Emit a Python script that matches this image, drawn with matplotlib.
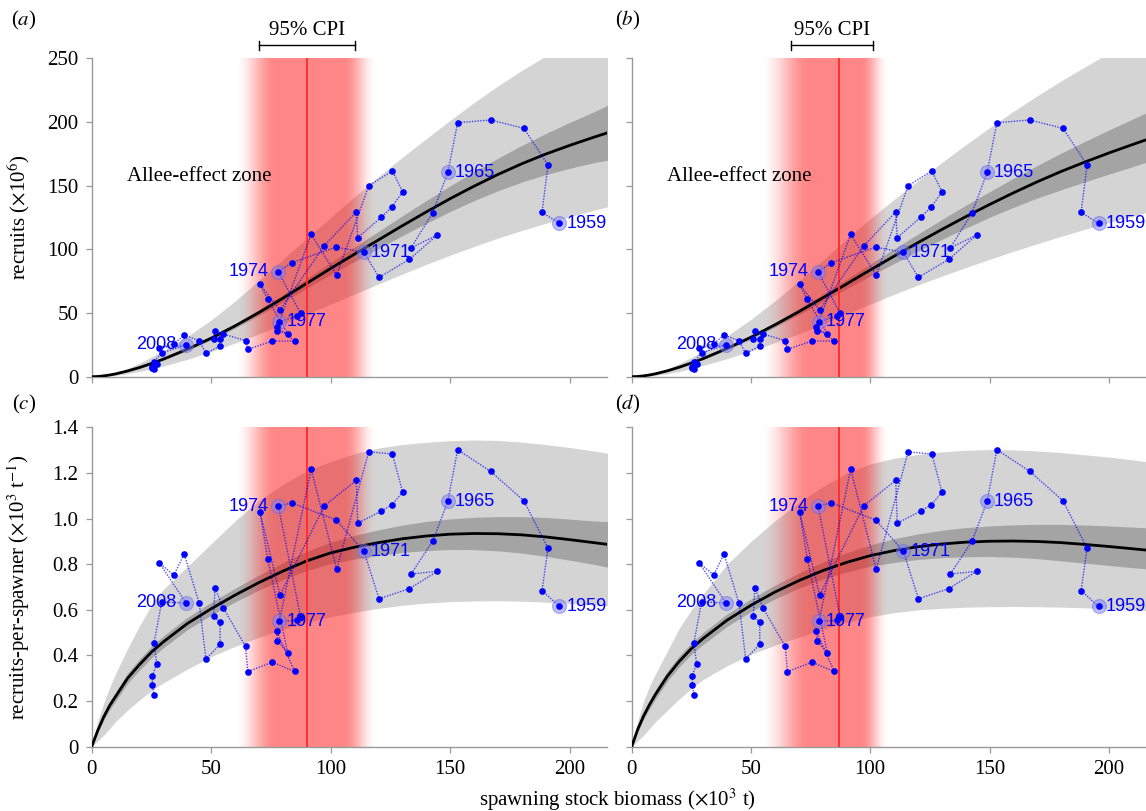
import numpy as np
import matplotlib
matplotlib.use('Agg')
import matplotlib.pyplot as plt
from matplotlib.transforms import blended_transform_factory

# stock-recruitment series: SSB (x10^3 t) and recruits (x10^6)
years = list(range(1959, 2015))
ssb = [195.7, 188.4, 190.9, 180.8, 166.9, 153.1, 149.0, 142.7, 133.6, 144.6,
       132.9, 120.2, 113.9, 102.3, 83.7, 78.1, 87.4, 86.0, 78.5, 91.8,
       102.5, 115.9, 125.8, 130.1, 125.5, 121.1, 111.3, 110.7, 97.3, 78.8,
       70.4, 73.6, 82.0, 77.7, 77.4, 84.9, 75.6, 65.3, 64.4, 55.1,
       51.6, 51.0, 53.7, 53.7, 47.8, 45.0, 38.7, 34.4, 28.3, 39.5,
       29.3, 26.1, 27.2, 25.4, 25.4, 26.1]
recruits = [120.4, 129.0, 166.2, 195.0, 201.5, 199.4, 160.4, 128.7, 101.2, 111.2,
            92.1, 78.0, 97.6, 101.7, 89.5, 82.4, 49.7, 47.6, 43.2, 111.7,
            79.8, 149.9, 161.5, 145.2, 133.0, 125.1, 109.1, 129.3, 102.8, 52.4,
            72.5, 60.7, 33.8, 36.1, 39.2, 28.0, 28.0, 21.5, 28.3, 33.5,
            35.9, 29.3, 29.3, 24.1, 18.4, 28.3, 32.7, 25.9, 22.8, 24.9,
            18.6, 11.9, 9.9, 7.9, 6.9, 5.9]
label_years = [1959, 1965, 1971, 1974, 1977, 2008]
left_labels = [1974, 2008]

# fitted curves, read as recruits-per-spawner at these SSB values
grid = [0, 2.5, 5, 7.5, 10, 15, 20, 25, 30, 40, 50, 60, 70, 80, 90, 100,
        110, 120, 130, 140, 150, 160, 170, 180, 190, 200, 210, 216]

# model of panels (a), (c)
m1_mid = [0, 0.07, 0.13, 0.18, 0.22, 0.30, 0.36, 0.415, 0.46, 0.54, 0.605, 0.665, 0.72, 0.77,
          0.815, 0.85, 0.875, 0.895, 0.912, 0.924, 0.932, 0.935, 0.934, 0.929, 0.92, 0.908, 0.895, 0.887]
m1_dark_hi = [0, 0.08, 0.145, 0.198, 0.24, 0.322, 0.384, 0.44, 0.486, 0.567, 0.633, 0.695, 0.753, 0.807,
              0.857, 0.897, 0.927, 0.951, 0.972, 0.988, 0.999, 1.006, 1.009, 1.009, 1.005, 0.998, 0.99, 0.987]
m1_dark_lo = [0, 0.06, 0.115, 0.162, 0.2, 0.278, 0.336, 0.39, 0.434, 0.513, 0.577, 0.635, 0.687, 0.733,
              0.773, 0.803, 0.823, 0.839, 0.852, 0.86, 0.865, 0.864, 0.859, 0.849, 0.835, 0.818, 0.8, 0.787]
m1_light_hi = [0, 0.11, 0.19, 0.26, 0.32, 0.43, 0.53, 0.62, 0.69, 0.79, 0.89, 0.99, 1.08, 1.15,
               1.21, 1.25, 1.285, 1.31, 1.325, 1.335, 1.342, 1.345, 1.343, 1.336, 1.325, 1.312, 1.297, 1.287]
m1_light_lo = [0, 0.025, 0.05, 0.08, 0.11, 0.16, 0.205, 0.245, 0.28, 0.34, 0.395, 0.44, 0.48, 0.515,
               0.545, 0.57, 0.59, 0.607, 0.62, 0.63, 0.636, 0.639, 0.64, 0.638, 0.634, 0.628, 0.622, 0.618]

# model of panels (b), (d)
m2_mid = [0, 0.075, 0.135, 0.185, 0.23, 0.31, 0.375, 0.43, 0.475, 0.555, 0.62, 0.678, 0.728, 0.772,
          0.808, 0.838, 0.86, 0.877, 0.889, 0.897, 0.901, 0.902, 0.9, 0.895, 0.887, 0.878, 0.868, 0.862]
m2_dark_hi = [0, 0.085, 0.15, 0.203, 0.25, 0.332, 0.399, 0.455, 0.501, 0.582, 0.648, 0.708, 0.761, 0.809,
              0.85, 0.885, 0.912, 0.933, 0.949, 0.961, 0.968, 0.973, 0.975, 0.975, 0.972, 0.968, 0.963, 0.96]
m2_dark_lo = [0, 0.065, 0.12, 0.167, 0.21, 0.288, 0.351, 0.405, 0.449, 0.528, 0.592, 0.648, 0.695, 0.735,
              0.766, 0.791, 0.808, 0.821, 0.829, 0.833, 0.834, 0.831, 0.825, 0.815, 0.805, 0.795, 0.785, 0.78]
m2_light_hi = [0, 0.11, 0.2, 0.265, 0.32, 0.42, 0.52, 0.6, 0.67, 0.8, 0.9, 0.99, 1.07, 1.14,
               1.2, 1.24, 1.265, 1.282, 1.293, 1.3, 1.303, 1.302, 1.297, 1.29, 1.28, 1.27, 1.258, 1.25]
m2_light_lo = [0, 0.025, 0.05, 0.08, 0.11, 0.16, 0.21, 0.255, 0.295, 0.355, 0.405, 0.445, 0.48, 0.515,
               0.545, 0.57, 0.588, 0.6, 0.607, 0.612, 0.614, 0.615, 0.614, 0.612, 0.609, 0.605, 0.6, 0.597]

# Allee threshold: posterior mode, 95% CPI and extent of the shaded posterior
m1_mode, m1_cpi, m1_shade = 90.2, (70.0, 110.0), (60, 77, 105, 119)
m2_mode, m2_cpi, m2_shade = 86.8, (66.7, 101.0), (54, 75, 96, 108)

SERIF = 'Liberation Serif'
SANS = 'Liberation Sans'
XMAX = 215.6


def add_shading(ax, edges, ymax):
    """red gradient for the posterior of the Allee threshold"""
    e0, e1, e2, e3 = edges
    xs = np.linspace(e0, e3, 600)
    t1 = np.clip((xs - e0) / (e1 - e0), 0, 1)
    t2 = np.clip((e3 - xs) / (e3 - e2), 0, 1)
    a = np.minimum(np.sin(t1 * np.pi / 2) ** 2, np.sin(t2 * np.pi / 2) ** 2)
    rgba = np.zeros((1, len(xs), 4))
    rgba[..., 0] = 1.0
    rgba[..., 1] = 0.05
    rgba[..., 2] = 0.05
    rgba[..., 3] = 0.5 * a
    ax.imshow(rgba, extent=(e0, e3, 0, ymax), aspect='auto', interpolation='bilinear', zorder=2)


def draw_panel(ax, per_spawner, curves, mode, shade, ymax):
    g = np.array(grid)
    x = np.array(ssb)
    r = np.array(recruits)
    mid, dhi, dlo, lhi, llo = [np.array(c) for c in curves]
    if per_spawner:
        y = r / x
        scale = np.ones_like(g)
    else:
        y = r
        scale = g

    ax.fill_between(g, llo * scale, lhi * scale, color='#d4d4d4', lw=0, zorder=1)
    ax.fill_between(g, dlo * scale, dhi * scale, color='#a4a4a4', lw=0, zorder=1.5)
    add_shading(ax, shade, ymax)
    ax.plot(g, mid * scale, color='black', lw=2.0, zorder=3, solid_capstyle='butt')
    ax.axvline(mode, color='#ff2a2a', lw=1.3, zorder=3.5)

    ax.plot(x, y, color='blue', lw=1.0, ls=(0, (1, 1)), alpha=0.7, zorder=4)
    ax.plot(x, y, 'o', color='blue', ms=4.8, mec='none', zorder=5)
    for yr in label_years:
        i = years.index(yr)
        ax.plot(x[i], y[i], 'o', ms=10, mfc=(0.5, 0.5, 1.0, 0.5), mec=(0.4, 0.4, 0.9, 0.5),
                mew=0.8, zorder=4.5)
        if yr in left_labels:
            ax.annotate(str(yr), (x[i], y[i]), xytext=(-7, 0), textcoords='offset points',
                        ha='right', va='center', color='blue', fontsize=13, family=SANS, zorder=6)
        else:
            ax.annotate(str(yr), (x[i], y[i]), xytext=(5, 0), textcoords='offset points',
                        ha='left', va='center', color='blue', fontsize=13, family=SANS, zorder=6)

    ax.set_xlim(0, XMAX)
    ax.set_ylim(0, ymax)
    ax.set_xticks([0, 50, 100, 150, 200])
    for side in ['top', 'right']:
        ax.spines[side].set_visible(False)
    for side in ['left', 'bottom']:
        ax.spines[side].set_color('#999999')
        ax.spines[side].set_linewidth(1.0)
    ax.tick_params(direction='out', length=4.5, width=0.9, color='#999999', labelsize=15, pad=5)


def add_cpi(ax, cpi):
    tr = blended_transform_factory(ax.transData, ax.transAxes)
    lo, hi = cpi
    ax.plot([lo, hi], [1.04, 1.04], color='black', lw=1.0, transform=tr, clip_on=False)
    for xv in cpi:
        ax.plot([xv, xv], [1.027, 1.053], color='black', lw=1.0, transform=tr, clip_on=False)
    ax.text((lo + hi) / 2, 1.088, '95% CPI', transform=tr, ha='center', va='center',
            fontsize=15, family=SERIF)


def main():
    plt.rcParams['font.family'] = SERIF
    plt.rcParams['mathtext.fontset'] = 'stix'

    fig = plt.figure(figsize=(11.46, 8.11), dpi=100)
    ax_a = fig.add_axes([0.0800, 0.5355, 0.4497, 0.3927])
    ax_b = fig.add_axes([0.5512, 0.5355, 0.4488, 0.3927])
    ax_c = fig.add_axes([0.0800, 0.0793, 0.4497, 0.3936])
    ax_d = fig.add_axes([0.5512, 0.0793, 0.4488, 0.3936])

    m1 = (m1_mid, m1_dark_hi, m1_dark_lo, m1_light_hi, m1_light_lo)
    m2 = (m2_mid, m2_dark_hi, m2_dark_lo, m2_light_hi, m2_light_lo)

    draw_panel(ax_a, False, m1, m1_mode, m1_shade, 250)
    draw_panel(ax_b, False, m2, m2_mode, m2_shade, 250)
    draw_panel(ax_c, True, m1, m1_mode, m1_shade, 1.4)
    draw_panel(ax_d, True, m2, m2_mode, m2_shade, 1.4)

    for ax in (ax_a, ax_b):
        ax.set_yticks([0, 50, 100, 150, 200, 250])
        ax.tick_params(labelbottom=False)
        ax.text(14.6, 157, 'Allee-effect zone', fontsize=15, family=SERIF, va='center')
    for ax in (ax_c, ax_d):
        ticks = [0, 0.2, 0.4, 0.6, 0.8, 1.0, 1.2, 1.4]
        ax.set_yticks(ticks)
        ax.set_yticklabels(['0'] + ['%.1f' % t for t in ticks[1:]])
    ax_b.tick_params(labelleft=False)
    ax_d.tick_params(labelleft=False)

    add_cpi(ax_a, m1_cpi)
    add_cpi(ax_b, m2_cpi)

    fig.text(0.021, 0.975, r'($\mathit{a}$)', fontsize=15, ha='center', va='center')
    fig.text(0.548, 0.975, r'($\mathit{b}$)', fontsize=15, ha='center', va='center')
    fig.text(0.021, 0.501, r'($\mathit{c}$)', fontsize=15, ha='center', va='center')
    fig.text(0.548, 0.501, r'($\mathit{d}$)', fontsize=15, ha='center', va='center')

    fig.text(0.016, 0.5355 + 0.3927 / 2, r'recruits ($\times$10$^{6}$)', rotation=90,
             ha='center', va='center', fontsize=15)
    fig.text(0.016, 0.0793 + 0.3936 / 2, r'recruits-per-spawner ($\times$10$^{3}$ t$^{-1}$)',
             rotation=90, ha='center', va='center', fontsize=15)
    fig.text(0.539, 0.0136, r'spawning stock biomass ($\times$10$^{3}$ t)',
             ha='center', va='center', fontsize=15)

    fig.savefig('out.png', dpi=100)
    plt.close(fig)


if __name__ == '__main__':
    main()
